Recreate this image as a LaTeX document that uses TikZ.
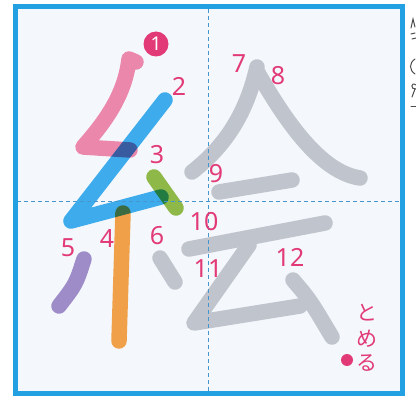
\documentclass[tikz,border=0pt]{standalone}
\usepackage{fontspec}
\newfontfamily\jpfont{Noto Sans CJK JP}
\newfontfamily\numfont{Noto Sans}
\usetikzlibrary{calc,positioning}
\definecolor{BoxBlue}{RGB}{35,160,225}
\definecolor{GuideBlue}{RGB}{70,150,205}
\definecolor{PaperBlue}{RGB}{244,248,252}
\definecolor{StrokePink}{RGB}{236,135,172}
\definecolor{StrokeBlue}{RGB}{62,172,236}
\definecolor{StrokeGreen}{RGB}{142,184,72}
\definecolor{StrokeOrange}{RGB}{240,160,72}
\definecolor{StrokePurple}{RGB}{158,140,200}
\definecolor{StrokeGray}{RGB}{192,196,204}
\definecolor{LabelPink}{RGB}{226,58,118}
\tikzset{
	brush/.style={line width=15.5pt, line cap=round, line join=round},
	guide/.style={GuideBlue, line width=0.9pt, dash pattern=on 4pt off 3pt},
	num/.style={text=LabelPink, font=\numfont\fontsize{25}{25}\selectfont, inner sep=0pt},
	kana/.style={text=LabelPink, font=\jpfont\fontsize{21}{21}\selectfont, inner sep=0pt},
	edgemark/.style={black!70, line width=1pt, line cap=round}
}
\begin{document}
\begin{tikzpicture}[x=1pt,y=-1pt]
	\useasboundingbox (0,0) rectangle (416,401);
	\fill[white] (0,0) rectangle (416,401);
	\fill[PaperBlue] (15,7) rectangle (402,394);
	% grey strokes
	\draw[brush,StrokeGray] (257,67) .. controls (245,120) and (220,150) .. (192,172);
	\draw[brush,StrokeGray] (258,73) .. controls (285,120) and (320,172) .. (360,178);
	\draw[brush,StrokeGray] (219,192) -- (292,180);
	\draw[brush,StrokeGray] (189,249) -- (325,223);
	\draw[brush,StrokeGray] (249,245) -- (194,323) -- (300,306);
	\draw[brush,StrokeGray] (293,280) .. controls (310,300) .. (332,337);
	\draw[brush,StrokeGray] (160,258) -- (175,282);
	% coloured strokes
	\begin{scope}[blend group=multiply]
		\draw[brush,StrokePink] (136,62) -- (129,59) .. controls (125,95) and (105,122) .. (83,147) -- (130,150);
		\draw[brush,StrokeBlue] (165,100) -- (71,221) -- (161,197);
		\draw[brush,StrokeGreen] (154,177) -- (176,208);
		\draw[brush,StrokeOrange] (123,213) -- (119,341);
		\draw[brush,StrokePurple] (84,259) .. controls (76,284) .. (59,306);
	\end{scope}
	% guide lines
	\draw[guide] (208,9) -- (208,392);
	\draw[guide] (17,201) -- (400,201);
	\draw[BoxBlue, line width=5pt] (15,7) rectangle (402,394);
	% labels
	\fill[LabelPink] (156,44) circle (12.5);
	\node[text=white, font=\numfont\bfseries\fontsize{19}{19}\selectfont, inner sep=0pt] (n1) at (156,44) {1};
	\foreach \n/\x/\y in {2/179/86, 3/157/155, 4/107/239, 5/68/248, 6/157/236,
		7/239/64, 8/278/76, 9/216/174, 10/204/222, 11/208/269, 12/290/257}
		\node[num] (n\n) at (\x,\y) {\n};
	\node[kana] (to) at (367,313) {と};
	\node[kana] (me) at (367,339) {め};
	\node[kana] (ru) at (367,363) {る};
	\fill[LabelPink] (347,360) circle (6);
	% cut-off marks at the right edge
	\draw[edgemark] (411,28) -- (413,19) -- (415,27);
	\draw[edgemark] (411,34) -- (415,33) (412,39) -- (416,38);
	\draw[edgemark] (415,59) .. controls (409,63) and (409,70) .. (415,74);
	\draw[edgemark] (416,85) .. controls (411,81) and (410,90) .. (416,89) (415,89) -- (412,97);
	\draw[edgemark] (411,107) -- (416,107);
\end{tikzpicture}
\end{document}
